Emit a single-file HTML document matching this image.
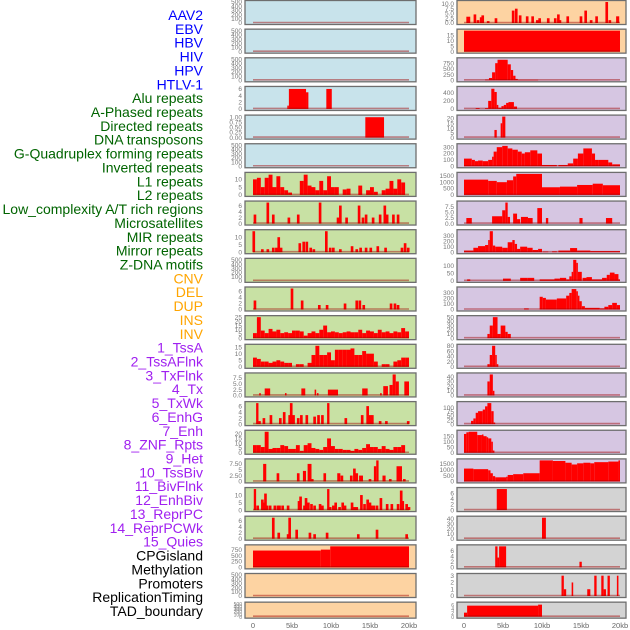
<!DOCTYPE html>
<html><head><meta charset="utf-8">
<style>
html,body{margin:0;padding:0;background:#fff;}
svg{display:block;font-family:"Liberation Sans",sans-serif;}
</style></head>
<body>
<svg id="chart" width="630" height="630" viewBox="0 0 630 630"></svg>
<script>
// ---- labels ----
const labelNames = ["AAV2","EBV","HBV","HIV","HPV","HTLV-1","Alu repeats","A-Phased repeats","Directed repeats","DNA transposons","G-Quadruplex forming repeats","Inverted repeats","L1 repeats","L2 repeats","Low_complexity A/T rich regions","Microsatellites","MIR repeats","Mirror repeats","Z-DNA motifs","CNV","DEL","DUP","INS","INV","1_TssA","2_TssAFlnk","3_TxFlnk","4_Tx","5_TxWk","6_EnhG","7_Enh","8_ZNF_Rpts","9_Het","10_TssBiv","11_BivFlnk","12_EnhBiv","13_ReprPC","14_ReprPCWk","15_Quies","CPGisland","Methylation","Promoters","ReplicationTiming","TAD_boundary"];
const labelGroups = [0,0,0,0,0,0,1,1,1,1,1,1,1,1,1,1,1,1,1,2,2,2,2,2,3,3,3,3,3,3,3,3,3,3,3,3,3,3,3,4,4,4,4,4];
const xTickLabels = ["0","5kb","10kb","15kb","20kb"];
const xTickValues = [0,5,10,15,20];

// ---- left column panels ----
const leftBg = ["b","b","b","b","b","b","g","g","g","g","g","g","g","g","g","g","g","g","g","o","o","o"];
const leftYMax = [500,500,500,6.3,1.03,500,13.5,7,14,500,7,25,16,9,7,22,9,14,7,900,500,500];
const leftTicks = [[0,100,200,300,400,500],[0,100,200,300,400,500],[0,100,200,300,400,500],[0,2,4,6],[0,0.25,0.5,0.75,1],[0,100,200,300,400,500],[0,5,10],[0,2,4,6],[0,5,10],[0,100,200,300,400,500],[0,2,4,6],[0,5,10,15,20,25],[0,5,10,15],[0,2.5,5,7.5],[0,2,4,6],[0,5,10,15,20],[0,2.5,5,7.5],[0,5,10],[0,2,4,6],[0,250,500,750],[0,100,200,300,400,500],[0,100,200,300,400,500]];
const leftData = [
 [],[],[],
 [[4.4,4.6,1],[4.6,6.8,6],[6.8,7.1,5],[9.4,10.1,6]],
 [[14.4,16.8,1]],
 [],
 [10,11,5,11,13,5,12,5,3,1.5,0,0,9,13,6,5,3,9,3,12,5,5,0,3.5,4,0,0,6,0,3,5,2,0,3,4,9,4,10,8,0],
 [[0.25,3],[1.9,7],[2.6,3],[4.6,2],[5.8,3],[8.6,7],[10.9,2],[11.2,6],[12,2],[13.6,6],[14.1,2],[14.5,3],[15.4,2],[16.3,3],[16.9,6],[17.2,3],[18,3],[18.6,3]],
 [[0.1,14],[1.2,2],[1.9,2],[2.6,3],[3,3],[3.3,10],[3.6,3],[6,6],[6.5,7],[6.9,7],[7.4,3],[7.8,2],[9.4,14],[9.9,3],[10.3,3],[11.2,2],[12.7,4],[13.3,2],[13.8,3],[14.5,3],[15.1,3],[16,4],[17,3],[19.1,3],[19.5,6],[19.9,3]],
 [],
 [[0.25,3],[5,7],[6.3,3],[8.5,1.5],[9.5,1.5],[11.8,2],[13.3,3],[13.7,3],[14.2,1.5],[17.7,2],[18.2,2],[18.6,1.5]],
 [6,25,9,6,11,8,10,6,7,6,9,9,8,3,6,8,6,10,15,7,8,7,6,7,8,7,7,10,6,9,8,6,10,7,8,6,8,7,12,8],
 [7,6,4,4,3,4,5,4,3,3,0,2,2,0,3,9,16,9,9,11,5,13,13,13,13,14,9,9,12,10,10,4,0,2,2,0,4,5,7,7],
 [[0.8,1.0,1],[1.5,2.2,3],[4.1,4.3,1],[6.2,6.7,3],[7.9,8.1,2.5],[8.2,8.4,1],[9.6,10.9,2.5],[14,14.7,3],[16.3,16.5,1],[16.7,17.3,4],[17.5,17.9,4.5],[17.9,18.3,9],[18.3,18.7,6],[19.4,20,6]],
 [[0.4,0.7,7],[0.7,1.0,1],[1.4,2],[2.3,3],[3.5,2],[4.0,4],[4.7,3],[4.9,7],[5.2,3],[5.8,2],[6.2,3],[6.9,3],[7.9,2.5],[8.4,3],[8.9,3],[9.5,9.8,7],[11.9,2],[14,3],[14.7,6],[15.0,3],[15.3,3],[16.3,1],[17.1,1],[19.9,1]],
 [8,8,6,22,4,5,5,8,7,4,4,8,2,8,10,5,4,3,6,15,7,4,4,3,3,2,4,3,5,9,6,6,4,7,4,3,6,6,8,0],
 [[1.3,1.7,7.5],[3.2,3.5],[5.8,3.5],[6.4,6.8,4.5],[7.0,7.5,7.5],[7.6,1],[9.2,3.5],[10.8,11.2,3.5],[11.4,2.5],[12.6,2.5],[13,5.5],[13.3,3.5],[13.6,14.1,2.5],[15,1],[15.5,15.8,6.5],[15.8,16.1,9],[16.6,17,2.5],[17.6,1],[18.4,19.1,6.5],[19.4,1]],
 [[0.1,0.4,14],[0.6,3],[1.2,7],[1.4,5],[1.6,11],[1.8,3],[2.2,3],[2.8,3],[3.2,3],[3.4,3],[3.8,3],[4.5,3],[5.9,6],[6.1,9],[6.6,3],[6.8,8],[7.1,5],[7.5,4],[7.9,3],[8.6,4],[8.9,3],[9.5,9.8,14],[9.9,2],[10.3,3],[10.6,5],[11.1,2],[11.5,5],[11.8,3],[12.7,5],[13,2],[13.3,2],[13.9,10],[14.3,4],[14.7,7],[15,5],[15.2,3],[15.5,3],[15.9,3],[16.4,8],[17.2,4],[17.8,4],[18.6,4],[19,13],[19.2,6],[19.7,4],[20,2]],
 [[2.6,7],[3.3,2],[4.5,1.5],[4.7,7],[5.6,3],[7.3,2],[7.9,1.5],[9.5,2],[13.5,1.5],[15.9,3],[19.7,1.5]],
 [[0,8.7,720],[8.7,9.9,760],[9.9,20,900]],
 [],[]
];

// ---- right column panels ----
const rightBg = ["o","o","p","p","p","p","p","p","p","p","p","p","p","p","p","p","p","r","r","r","r","r"];
const rightYMax = [11,19.5,920,520,22,330,1650,9.5,380,140,380,50,80,45,130,190,1800,7.5,42,7.5,3.1,6.5];
const rightTicks = [[0,2.5,5,7.5,10],[0,5,10,15],[0,250,500,750],[0,200,400],[0,5,10,15,20],[0,100,200,300],[0,500,1000,1500],[0,2.5,5,7.5],[0,100,200,300],[0,50,100],[0,100,200,300],[0,10,20,30,40,50],[0,20,40,60,80],[0,10,20,30,40],[0,25,50,75,100],[0,50,100,150],[0,500,1000,1500],[0,2,4,6],[0,10,20,30,40],[0,2,4,6],[0,1,2,3],[0,2,4,6]];
const rightTickFmt = [1,0,0,0,0,0,0,1,0,0,0,0,0,0,0,0,0,0,0,0,0,0];
const rightData = [
 [[0.3,0.8,3.3],[1.4,4.5],[1.8,1.5],[2.2,3],[2.4,4],[3.1,1],[4.1,2.5],[6.3,6.5],[6.7,7.5],[7.2,4],[8.1,3.5],[8.8,3.5],[9.4,1.5],[9.7,2.5],[10.8,2.5],[11.7,2.5],[12.1,4.5],[12.3,1.5],[13.3,3.5],[15,3.5],[15.6,6.5],[16.3,1.5],[17,3.5],[18.3,11],[18.7,1.5],[19.5,19.9,3.5]],
 [[0,20,19.5]],
 [[2.7,3.2,30],[3.2,3.6,100],[3.6,4.0,350],[4.0,4.3,750],[4.3,5.6,900],[5.6,6.0,700],[6.0,6.3,450],[6.3,6.6,200],[6.6,6.9,60],[6.9,9.5,20]],
 [[1.5,2.0,20],[2.7,3.1,20],[3.1,3.5,200],[3.5,3.9,500],[3.9,4.2,420],[4.2,4.4,100],[4.4,4.8,30],[4.8,5.1,70],[5.1,5.4,100],[5.4,5.7,150],[5.7,6.4,170],[6.4,6.8,60]],
 [[3.9,4.2,8],[4.7,4.9,15],[4.9,5.3,22]],
 [[0,1,120],[1,1.4,100],[1.4,1.8,80],[1.8,2.4,90],[2.4,3.1,80],[3.1,3.6,100],[3.6,3.8,150],[3.8,4.2,230],[4.2,4.9,300],[4.9,5.6,320],[5.6,6.2,280],[6.2,6.9,260],[6.9,7.4,230],[7.4,7.8,200],[7.8,8.5,220],[8.5,9.4,250],[9.4,10,200],[10,11.9,20],[12.1,13.3,20],[13.3,14,45],[14,14.6,120],[14.6,15.3,200],[15.3,16.4,280],[16.4,16.8,200],[16.8,17.2,100],[17.2,18.5,100],[18.5,19,60],[19,20,30]],
 [[0,3.1,1200],[3.1,4.2,1100],[4.2,5.5,1000],[5.5,6.3,1150],[6.3,6.7,1450],[6.7,10,1650],[10,12.3,600],[12.3,14.5,650],[14.5,16.5,780],[16.5,17.8,880],[17.8,20,760]],
 [[0.3,1,2.5],[3.6,4.9,3.3],[4.9,5.3,6],[5.3,5.6,9.5],[5.6,5.9,3],[6.3,6.8,4.5],[6.8,7.2,2],[7.3,8.2,3],[8.2,8.8,2.5],[9.4,10,7],[10.5,10.8,2.5],[14.8,15.2,2.5],[18.2,19,2.5]],
 [[0,1.2,30],[1.2,1.8,80],[1.8,2.7,110],[2.7,3.1,130],[3.1,3.3,220],[3.3,3.7,380],[3.7,4,120],[4,4.9,100],[4.9,5.6,80],[5.6,6.2,180],[6.2,6.5,220],[6.5,6.8,150],[6.8,7.2,60],[7.2,8.1,100],[8.1,8.8,80],[8.8,9.5,40],[9.5,10,60],[10.1,10.8,10],[11.3,11.9,15],[12.1,13.6,30],[13.6,14.5,75],[14.5,16.2,30],[16.2,20,20]],
 [[0.4,0.8,10],[5,6,15],[7.2,8.1,20],[8.1,9,20],[9.7,11.6,10],[11.6,12.3,15],[12.3,13.1,20],[13.1,13.5,10],[13.5,13.8,30],[13.8,14,60],[14,14.4,140],[14.4,14.6,120],[14.6,15.1,60],[15.2,15.7,20],[15.7,16.4,25],[16.4,17.7,10],[17.7,18.3,20],[18.3,18.7,40],[18.7,19.3,55],[19.3,19.8,45],[19.8,20,10]],
 [[7.7,8.3,20],[9.7,10.1,230],[10.1,10.5,210],[10.5,11.9,180],[11.9,13.1,200],[13.1,13.5,250],[13.5,13.8,300],[13.8,14.4,370],[14.4,14.6,330],[14.6,14.8,250],[14.8,15.1,150],[15.1,15.5,60],[15.5,17.4,30],[17.4,18,20],[18,18.5,50],[18.5,19,80],[19,19.6,120],[19.6,20,80]],
 [[3,3.3,10],[3.3,3.7,30],[3.7,4.3,50],[4.3,4.7,10],[4.7,5.3,30],[5.3,5.6,15],[5.6,6,10]],
 [[3,3.3,10],[3.3,3.6,45],[3.6,4,80],[4,4.2,45],[4.2,4.4,10]],
 [[3,3.3,30],[3.3,3.7,45],[3.7,3.9,10]],
 [[0.9,1.2,20],[1.2,1.5,35],[1.5,1.8,70],[1.8,2.4,80],[2.4,2.7,90],[2.7,3,110],[3,3.5,130],[3.5,3.8,80],[3.8,4,10]],
 [[0,0.3,170],[0.3,0.6,185],[0.6,1.7,190],[1.7,2.3,160],[2.3,2.5,165],[2.5,2.9,150],[2.9,3.1,140],[3.1,3.5,130],[3.5,3.7,100],[3.7,3.9,20]],
 [[0,1.2,1100],[1.2,3.1,1050],[3.1,3.4,950],[3.4,3.7,700],[3.7,4,450],[4,5.4,350],[5.4,5.6,400],[5.6,6.3,550],[6.3,7.6,620],[7.6,9.7,700],[9.7,11.4,1800],[11.4,13,1750],[13,13.8,1600],[13.8,14.5,1450],[14.5,15.3,1550],[15.3,16.2,1600],[16.2,16.7,1550],[16.7,18.5,1650],[18.5,19.8,1700],[19.8,20,1800]],
 [[4.2,5.5,7.5]],
 [[10,10.5,42]],
 [[4,4.3,7.5],[4.3,4.5,3.5],[4.5,5.4,7.5],[14.8,15.1,2]],
 [[12.5,12.8,3],[12.8,13.1,1],[13.8,14,2],[15.8,16.2,1],[16.7,17,3],[17.6,17.9,3],[17.9,18.2,1],[18.4,18.7,3],[19.6,19.8,3]],
 [[0,0.4,2],[0.4,9.5,5.5],[9.5,10,6]]
];

const NS = "http://www.w3.org/2000/svg";
const svg = document.getElementById("chart");
const bgColors = {b:"#c8e3eb",g:"#c8e1a4",o:"#fdd3a2",p:"#d6c6e2",r:"#d3d3d3"};
const groupColors = ["#0000ff","#006400","#ffa500","#a020f0","#000000"];
function mk(tag, attrs, parent){const e=document.createElementNS(NS,tag);for(const k in attrs)e.setAttribute(k,attrs[k]);(parent||svg).appendChild(e);return e;}

// labels
labelNames.forEach((t,i)=>{
  const e = mk("text",{x:203,y:15+i*13.86+5,"text-anchor":"end","font-size":"14",fill:groupColors[labelGroups[i]]});
  e.textContent = t;
  
  
});

function rowTop(i){return i*28.65+0.5;}
function rowH(i){return i===21?16:24;}
function fmt(v,dec){if(dec)return v.toFixed(1);return (Math.abs(v-Math.round(v))>1e-9)?v.toFixed(2):String(v);}

function drawPanel(side, i, bg, ymax, ticks, data, dec){
  const x0 = side==="L"?245:457, x1 = side==="L"?416:626;
  const kb0 = side==="L"?253:464, kbScale = 7.8;
  const top = rowTop(i), h = rowH(i);
  const g = mk("g",{});
  
  
  const r = mk("rect",{x:x0,y:top,width:x1-x0,height:h,fill:bgColors[bg],stroke:"#6e6e6e","stroke-width":1.3},g);
  
  
  const yb = top+h-1.5, yt = top+1.5;
  const xs = v=>kb0+v*kbScale;
  const ys = v=>yb-(v/ymax)*(yb-yt);
  // ticks
  const fs = h<20?5:6.5;
  ticks.forEach(t=>{
    const tx = mk("text",{x:x0-3,y:ys(t)+2.2,"text-anchor":"end","font-size":fs,fill:"#777"},g);
    tx.textContent = (side==="R"&&dec)?t.toFixed(1):fmt(t, (side==="L"&&i===4)?0:0);
    if(side==="L"&&i===4) tx.textContent = t.toFixed(2);
    if(side==="L"&&i===13) tx.textContent = t.toFixed(1);
    
    
  });
  // bars
  if(data.length && typeof data[0]==="number"){
    data.forEach((v,k)=>{
      if(v<=0)return;
      const b = mk("rect",{x:xs(k*0.5),y:ys(v),width:0.5*kbScale,height:yb-ys(v),fill:"#ff0000"},g);
      
      
    });
  } else {
    data.forEach(d=>{
      let s,e,v;
      if(d.length===2){s=d[0]-0.17;e=d[0]+0.17;v=d[1];}else{s=d[0];e=d[1];v=d[2];}
      const b = mk("rect",{x:xs(s),y:ys(v),width:Math.max(1,(e-s)*kbScale),height:yb-ys(v),fill:"#ff0000"},g);
      
      
    });
  }
  const bl = mk("line",{x1:xs(0),x2:xs(20),y1:yb-0.5,y2:yb-0.5,stroke:"rgba(160,0,0,0.45)","stroke-width":1.6},g);
  
  
}

for(let i=0;i<22;i++){
  drawPanel("L",i,leftBg[i],leftYMax[i],leftTicks[i],leftData[i],0);
  drawPanel("R",i,rightBg[i],rightYMax[i],rightTicks[i],rightData[i],rightTickFmt[i]);
}
// x axes
["L","R"].forEach(side=>{
  const kb0 = side==="L"?253:464;
  xTickValues.forEach((v,k)=>{
    const t = mk("text",{x:kb0+v*7.8,y:628,"text-anchor":"middle","font-size":"7.5",fill:"#666"});
    t.textContent = xTickLabels[k];
    
    
  });
});
</script>
</body></html>
